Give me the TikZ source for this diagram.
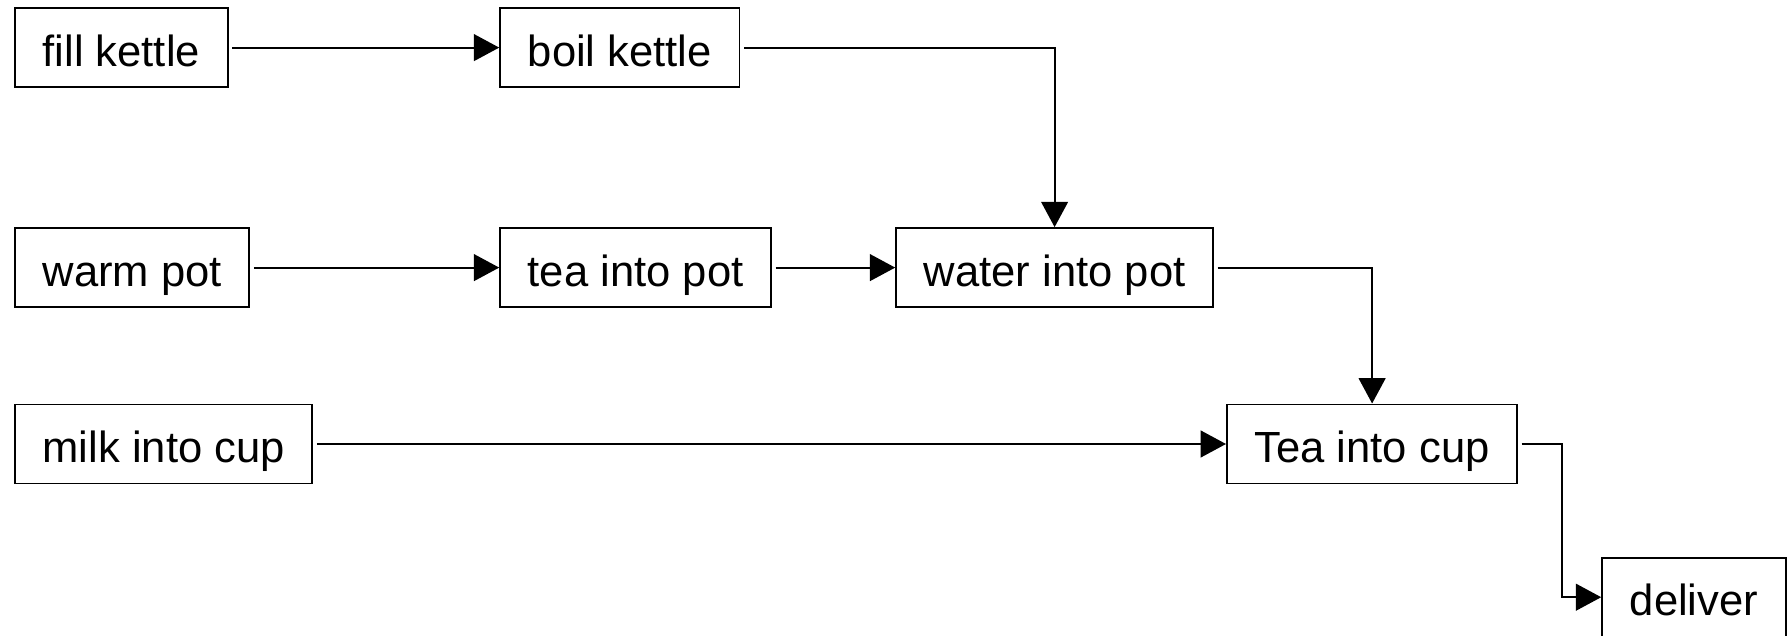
\documentclass[tikz,border=0pt]{standalone}
\usepackage{fontspec}
\setmainfont{Liberation Sans}
\usepackage{tikz}
\usetikzlibrary{arrows.meta}

\begin{document}
\begin{tikzpicture}[
        box/.style={draw, line width=1.4pt, anchor=west, minimum height=1.975cm, inner xsep=0.69cm, text height=26.5pt, text depth=0pt, font=\fontsize{31}{37}\selectfont},
        flow/.style={line width=1.4pt, -{Triangle[length=18pt, width=19pt]}, shorten <=2.5pt}
    ]
        \useasboundingbox (0, 0) rectangle (44.75, -15.875);

        % Steps
        \node[box] (fill) at (0.35, -1.19) {fill kettle};
        \node[box] (boil) at (12.48, -1.19) {boil kettle};
        \node[box] (warm) at (0.35, -6.69) {warm pot};
        \node[box] (teapot) at (12.48, -6.69) {tea into pot};
        \node[box] (water) at (22.38, -6.69) {water into pot};
        \node[box] (milk) at (0.35, -11.1) {milk into cup};
        \node[box] (teacup) at (30.65, -11.1) {Tea into cup};
        \node[box] (deliver) at (40.03, -14.93) {deliver};

        \coordinate (turn) at (39.05, -11.1);

        \draw[flow] (fill) -- (boil);
        \draw[flow] (boil) -| (water);
        \draw[flow] (warm) -- (teapot);
        \draw[flow] (teapot) -- (water);
        \draw[flow] (water) -| (teacup);
        \draw[flow] (milk) -- (teacup);
        \draw[flow] (teacup) -- (turn) |- (deliver);
    \end{tikzpicture}
\end{document}
